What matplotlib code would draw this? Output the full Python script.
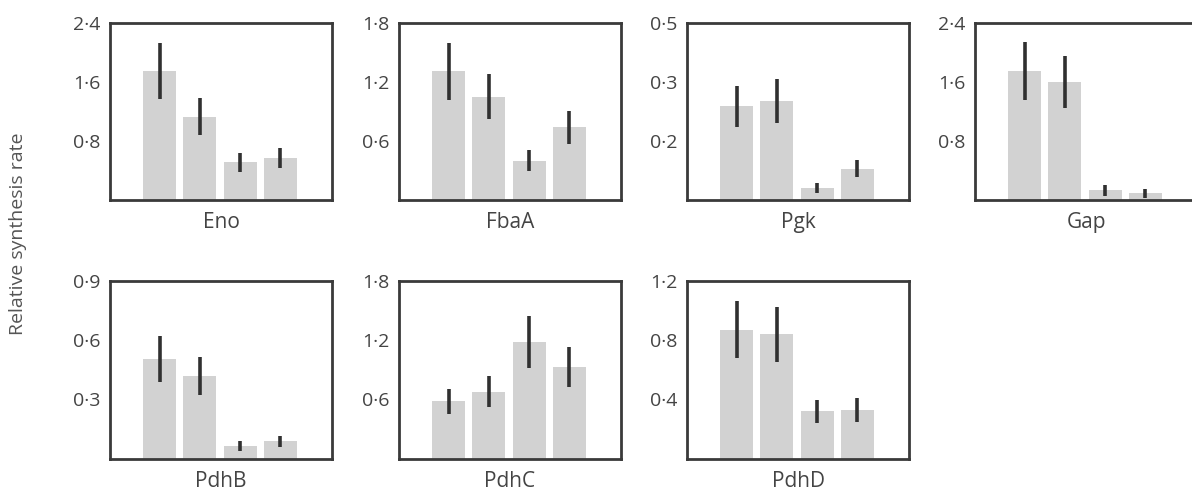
import matplotlib.pyplot as plt

plt.rcParams['font.family'] = ['Open Sans', 'DejaVu Sans']

# protein names, one panel each
proteins = ['Eno', 'FbaA', 'Pgk', 'Gap', 'PdhB', 'PdhC', 'PdhD']

# top of each y axis and the labels printed at 1/3, 2/3 and top
y_max = [2.4, 1.8, 0.45, 2.4, 0.9, 1.8, 1.2]
tick_labels = [
    ['0·8', '1·6', '2·4'],
    ['0·6', '1·2', '1·8'],
    ['0·2', '0·3', '0·5'],
    ['0·8', '1·6', '2·4'],
    ['0·3', '0·6', '0·9'],
    ['0·6', '1·2', '1·8'],
    ['0·4', '0·8', '1·2'],
]

# four conditions per protein
eno = [1.75, 1.13, 0.51, 0.57]
eno_err = [0.38, 0.25, 0.13, 0.13]
fbaa = [1.31, 1.05, 0.40, 0.74]
fbaa_err = [0.29, 0.23, 0.11, 0.17]
pgk = [0.238, 0.252, 0.030, 0.080]
pgk_err = [0.053, 0.055, 0.012, 0.022]
gap = [1.75, 1.60, 0.13, 0.09]
gap_err = [0.39, 0.35, 0.07, 0.06]
pdhb = [0.505, 0.42, 0.065, 0.09]
pdhb_err = [0.115, 0.095, 0.025, 0.028]
pdhc = [0.58, 0.68, 1.18, 0.93]
pdhc_err = [0.13, 0.155, 0.26, 0.20]
pdhd = [0.87, 0.84, 0.32, 0.33]
pdhd_err = [0.19, 0.185, 0.08, 0.08]

values = [eno, fbaa, pgk, gap, pdhb, pdhc, pdhd]
errors = [eno_err, fbaa_err, pgk_err, gap_err, pdhb_err, pdhc_err, pdhd_err]

W, H = 1192, 495
fig = plt.figure(figsize=(W / 100, H / 100), dpi=100)

lefts = [110, 399, 687, 975]
rows = [(23, 200), (280.5, 459)]
width = 222

txt_col = '#444444'
for i, name in enumerate(proteins):
    r, c = divmod(i, 4)
    top, bot = rows[r]
    ax = fig.add_axes([lefts[c] / W, (H - bot) / H, width / W, (bot - top) / H])
    x = range(len(values[i]))
    ax.bar(x, values[i], width=0.82, color='#d2d2d2', zorder=1)
    ax.errorbar(x, values[i], yerr=errors[i], fmt='none', ecolor='#303030',
                elinewidth=2.6, capsize=0, zorder=2)
    ax.set_xlim(-1.23, 4.28)
    ax.set_ylim(0, y_max[i])
    ax.set_xticks([])
    ax.set_yticks([y_max[i] / 3, 2 * y_max[i] / 3, y_max[i]])
    ax.set_yticklabels(tick_labels[i])
    ax.tick_params(axis='y', length=0, pad=7, labelsize=14, labelcolor=txt_col)
    for s in ax.spines.values():
        s.set_linewidth(2.0)
        s.set_color('#3a3a3a')
    ax.text(0.5, -0.125, name, transform=ax.transAxes, ha='center', va='center',
            fontsize=15, color=txt_col)

fig.text(18 / W, 1 - 234 / H, 'Relative synthesis rate', rotation=90,
         ha='center', va='center', fontsize=14, color='#555555')

fig.savefig('out.png', dpi=100)
